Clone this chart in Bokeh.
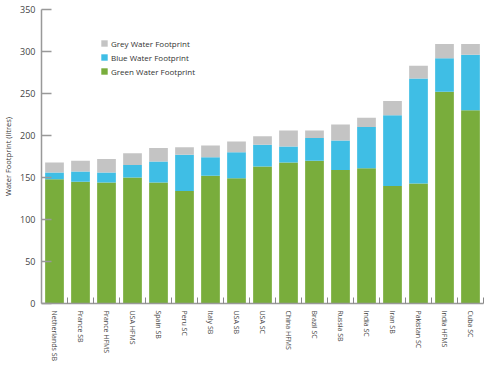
from bokeh.plotting import figure
from bokeh.models import ColumnDataSource, FixedTicker, Range1d, Legend, LegendItem
from bokeh.embed import file_html
from bokeh.resources import INLINE

categories = ["Netherlands SB", "France SB", "France HFMS", "USA HFMS", "Spain SB", "Peru SC",
              "Italy SB", "USA SB", "USA SC", "China HFMS", "Brazil SC", "Russia SB",
              "India SC", "Iran SB", "Pakistan SC", "India HFMS", "Cuba SC"]
green = [148, 145, 144, 150, 144, 134, 152, 149, 163, 168, 170, 159, 161, 140, 143, 252, 230]
blue = [8, 12, 12, 15, 25, 43, 22, 31, 26, 19, 27, 35, 49, 84, 125, 40, 66]
grey = [12, 13, 16, 14, 16, 9, 14, 13, 10, 19, 9, 19, 11, 17, 15, 17, 13]
y_ticks = [0, 50, 100, 150, 200, 250, 300, 350]

FONT = "Open Sans"
C_GREEN = "#79ad3c"
C_BLUE = "#3fbee5"
C_GREY = "#c4c4c4"

xs = list(range(len(categories)))
src = ColumnDataSource(dict(x=xs, green=green, blue=blue, grey=grey))

p = figure(width=484, height=364, output_backend="svg", toolbar_location=None,
           x_range=Range1d(-0.5, len(categories) - 0.5), y_range=Range1d(0, 350),
           min_border_left=37, min_border_right=1, min_border_top=9, min_border_bottom=55)
p.outline_line_color = None
p.xgrid.visible = False
p.ygrid.visible = False

rs = p.vbar_stack(["green", "blue", "grey"], x="x", width=0.72, source=src,
                  color=[C_GREEN, C_BLUE, C_GREY], line_color=None)

legend = Legend(items=[LegendItem(label="Grey Water Footprint", renderers=[rs[2]]),
                       LegendItem(label="Blue Water Footprint", renderers=[rs[1]]),
                       LegendItem(label="Green Water Footprint", renderers=[rs[0]])],
                location=(59, 226), padding=0, margin=0, spacing=2,
                glyph_width=8, glyph_height=8, label_height=12, label_standoff=3,
                label_text_font=FONT, label_text_color="#333333",
                border_line_alpha=0, background_fill_alpha=0)
legend.label_text_font_size = "8px"
p.add_layout(legend)

# x axis
xa = p.xaxis[0]
xa.axis_label = None
xa.axis_label_standoff = 0
xa.ticker = FixedTicker(ticks=xs, minor_ticks=[i + 0.5 for i in xs])
xa.major_label_overrides = {i: c for i, c in zip(xs, categories)}
xa.major_label_orientation = "vertical"
xa.major_tick_in = 0
xa.major_tick_out = 0
xa.minor_tick_in = 6
xa.minor_tick_out = 0
xa.minor_tick_line_color = "#888888"
xa.axis_line_color = "#999999"
xa.axis_line_width = 1.5
xa.major_label_text_font = FONT
xa.major_label_text_font_size = "7px"
xa.major_label_text_color = "#444444"
xa.major_label_standoff = 7

# y axis
ya = p.yaxis[0]
ya.ticker = FixedTicker(ticks=y_ticks, minor_ticks=[])
ya.major_tick_in = 10
ya.major_tick_out = 0
ya.major_tick_line_color = "#999999"
ya.major_tick_line_width = 1.5
ya.axis_line_color = "#999999"
ya.axis_line_width = 1.5
ya.major_label_text_font = FONT
ya.major_label_text_font_size = "9px"
ya.major_label_text_color = "#444444"
ya.major_label_standoff = 6
ya.axis_label = "Water Footprint (litres)"
ya.axis_label_text_font = FONT
ya.axis_label_text_font_size = "7.5px"
ya.axis_label_text_font_style = "normal"
ya.axis_label_text_color = "#333333"
ya.axis_label_standoff = 4

open("out.html", "w").write(file_html(p, INLINE))
